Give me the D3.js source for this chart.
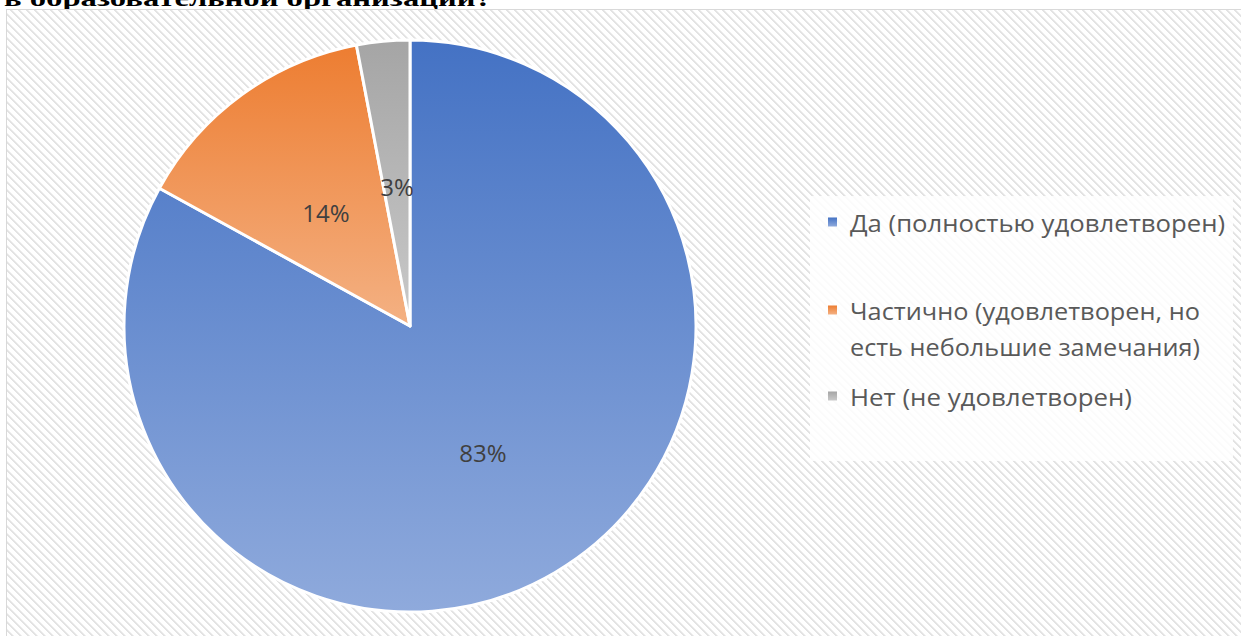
<!DOCTYPE html>
<html>
<head>
<meta charset="utf-8">
<script src="https://cdn.jsdelivr.net/npm/d3@7"></script>
<style>
  body { margin: 0; background: #fff; }
  svg { display: block; }
</style>
</head>
<body>
<div id="chart"></div>
<script>
// Data
const categories = ["Да (полностью удовлетворен)", "Частично (удовлетворен, но есть небольшие замечания)", "Нет (не удовлетворен)"];
const legendLines = [["Да (полностью удовлетворен)"], ["Частично (удовлетворен, но", "есть небольшие замечания)"], ["Нет (не удовлетворен)"]];
const values = [83, 14, 3];
const labels = ["83%", "14%", "3%"];
const colorsTop = ["#4472C4", "#ED7D31", "#A5A5A5"];
const colorsBottom = ["#8FAADC", "#F4B183", "#C9C9C9"];

const width = 1241, height = 636;
const cx = 410, cy = 326, radius = 286;

const svg = d3.select("#chart").append("svg")
    .attr("width", width)
    .attr("height", height);

const defs = svg.append("defs");

// hatch background pattern (light downward diagonal)
const pat = defs.append("pattern")
    .attr("id", "hatch")
    .attr("patternUnits", "userSpaceOnUse")
    .attr("width", 8).attr("height", 8);
pat.append("rect").attr("width", 8).attr("height", 8).attr("fill", "#fff");
d3.range(8).forEach(i => {
    pat.append("rect")
        .attr("x", i).attr("y", i)
        .attr("width", 1).attr("height", 1)
        .attr("fill", "#e3e3e3");
    pat.append("rect")
        .attr("x", (i + 1) % 8).attr("y", i)
        .attr("width", 1).attr("height", 1)
        .attr("fill", "#e3e3e3");
    pat.append("rect")
        .attr("x", (i + 2) % 8).attr("y", i)
        .attr("width", 1).attr("height", 1)
        .attr("fill", "#f0f0f0");
});

// gradients per slice
values.forEach((v, i) => {
    const g = defs.append("linearGradient")
        .attr("id", "grad" + i)
        .attr("x1", 0).attr("y1", 0).attr("x2", 0).attr("y2", 1);
    g.append("stop").attr("offset", "0%").attr("stop-color", colorsTop[i]);
    g.append("stop").attr("offset", "100%").attr("stop-color", colorsBottom[i]);
});

// title (clipped at top, as in the source image)
svg.append("text")
    .attr("x", 4).attr("y", 6)
    .attr("font-family", "'Liberation Serif', 'Times New Roman', serif")
    .attr("font-weight", "bold")
    .attr("font-size", 24)
    .attr("fill", "#000")
    .attr("textLength", 488)
    .attr("lengthAdjust", "spacingAndGlyphs")
    .text("в образовательной организации?");

// chart area
svg.append("rect")
    .attr("x", 6.5).attr("y", 9.5)
    .attr("width", width + 10).attr("height", height + 10)
    .attr("fill", "url(#hatch)")
    .attr("stroke", "#d9d9d9")
    .attr("stroke-width", 1);

// legend background
svg.append("rect")
    .attr("x", 810).attr("y", 196)
    .attr("width", 423).attr("height", 265)
    .attr("fill", "#fff")
    .attr("fill-opacity", 0.85);

const pie = d3.pie().sort(null).value(d => d);
const arc = d3.arc().innerRadius(0).outerRadius(radius);

const gPie = svg.append("g").attr("transform", `translate(${cx},${cy})`);
const arcs = pie(values);

gPie.selectAll("path.slice")
    .data(arcs)
    .enter().append("path")
    .attr("class", "slice")
    .attr("d", arc)
    .attr("fill", (d, i) => `url(#grad${i})`)
    .attr("stroke", "#fff")
    .attr("stroke-width", 3)
    .attr("stroke-linejoin", "round");

const labelPos = [[73, 126], [-84, -114], [-13, -140]];
gPie.selectAll("text.lbl")
    .data(arcs)
    .enter().append("text")
    .attr("class", "lbl")
    .attr("x", (d, i) => labelPos[i][0])
    .attr("y", (d, i) => labelPos[i][1])
    .attr("text-anchor", "middle")
    .attr("dominant-baseline", "central")
    .attr("font-family", "'Open Sans', 'Noto Sans', sans-serif")
    .attr("font-size", 24)
    .attr("fill", "#404040")
    .text((d, i) => labels[i]);

// legend
const legendY = [222, 310, 396];
const legendWidths = {
    "Да (полностью удовлетворен)": 375,
    "Частично (удовлетворен, но": 350,
    "есть небольшие замечания)": 350,
    "Нет (не удовлетворен)": 282
};
const legend = svg.append("g");
categories.forEach((c, i) => {
    legend.append("rect")
        .attr("x", 828).attr("y", legendY[i] - 4.5)
        .attr("width", 9).attr("height", 9)
        .attr("fill", `url(#grad${i})`);
    legendLines[i].forEach((line, j) => {
        legend.append("text")
            .attr("x", 850)
            .attr("y", legendY[i] + j * 36)
            .attr("dominant-baseline", "central")
            .attr("font-family", "'Open Sans', 'Noto Sans', sans-serif")
            .attr("font-size", 24)
            .attr("fill", "#595959")
            .attr("textLength", legendWidths[line])
            .attr("lengthAdjust", "spacingAndGlyphs")
            .text(line);
    });
});
</script>
</body>
</html>
